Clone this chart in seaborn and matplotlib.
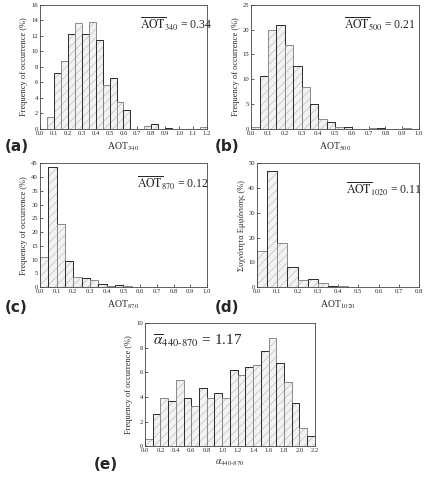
import numpy as np
import pandas as pd
import matplotlib
matplotlib.use('Agg')
import matplotlib.pyplot as plt
import matplotlib.patches as mpatches
import seaborn as sns

# bin edges / frequencies (%)
aot340_edges = np.round(np.arange(0.05, 1.2001, 0.05), 2)
aot340_freq = [1.5, 7.2, 8.7, 12.2, 13.6, 12.2, 13.8, 11.5, 5.7, 6.6, 3.4, 2.4,
               0, 0, 0.3, 0.6, 0, 0.1, 0, 0, 0, 0, 0.2]

aot500_edges = np.round(np.arange(0.0, 1.0001, 0.05), 2)
aot500_freq = [0.4, 10.7, 20.0, 21.0, 17.0, 12.6, 8.4, 5.0, 2.0, 1.4, 0.4, 0.4,
               0, 0, 0.2, 0.2, 0, 0, 0.2, 0]

aot870_edges = np.round(np.arange(0.0, 1.0001, 0.05), 2)
aot870_freq = [11.0, 43.5, 23.0, 9.5, 3.6, 3.2, 2.6, 1.2, 0.4, 0.8, 0.3, 0.1,
               0, 0.2, 0, 0, 0.2, 0, 0, 0]

aot1020_edges = np.round(np.arange(0.0, 0.8001, 0.05), 2)
aot1020_freq = [14.5, 47.0, 18.0, 8.0, 3.0, 3.5, 1.8, 0.5, 0.3, 0, 0, 0,
                0, 0, 0, 0]

alpha_edges = np.round(np.arange(0.0, 2.2001, 0.1), 2)
alpha_freq = [0.6, 2.6, 3.9, 3.7, 5.4, 3.9, 3.3, 4.7, 3.9, 4.3, 3.9, 6.2,
              5.8, 6.4, 6.6, 7.7, 8.8, 6.8, 5.2, 3.5, 1.5, 0.8]

sns.set_style('ticks')
plt.rcParams['font.family'] = ['Liberation Serif', 'DejaVu Serif']
plt.rcParams['mathtext.fontset'] = 'stix'
plt.rcParams['hatch.linewidth'] = 0.5

fig = plt.figure(figsize=(4.25, 4.86), dpi=100)

panels = [
    # edges, freq, rect, xticks, yticks, xlabel, ylabel, note, note pos, tag, tag pos
    (aot340_edges, aot340_freq, [0.094, 0.735, 0.393, 0.255],
     np.arange(0, 1.21, 0.1), np.arange(0, 17, 2), r'AOT$_{340}$',
     'Frequency of occurrence (%)', r'$\overline{\mathrm{AOT}}_{340}$ = 0.34',
     (0.6, 0.8), '(a)', (0.01, 0.69)),
    (aot500_edges, aot500_freq, [0.591, 0.735, 0.395, 0.255],
     np.arange(0, 1.01, 0.1), np.arange(0, 26, 5), r'AOT$_{500}$',
     'Frequency of occurrence (%)', r'$\overline{\mathrm{AOT}}_{500}$ = 0.21',
     (0.55, 0.8), '(b)', (0.505, 0.69)),
    (aot870_edges, aot870_freq, [0.094, 0.409, 0.393, 0.255],
     np.arange(0, 1.01, 0.1), np.arange(0, 46, 5), r'AOT$_{870}$',
     'Frequency of occurrence (%)', r'$\overline{\mathrm{AOT}}_{870}$ = 0.12',
     (0.58, 0.8), '(c)', (0.01, 0.357)),
    (aot1020_edges, aot1020_freq, [0.605, 0.409, 0.381, 0.255],
     np.arange(0, 0.81, 0.1), np.arange(0, 51, 10), r'AOT$_{1020}$',
     'Συχνότητα Εμφάνισης (%)', r'$\overline{\mathrm{AOT}}_{1020}$ = 0.11',
     (0.55, 0.75), '(d)', (0.505, 0.357)),
    (alpha_edges, alpha_freq, [0.341, 0.082, 0.40, 0.253],
     np.arange(0, 2.21, 0.2), np.arange(0, 11, 2), r'$\alpha_{440\text{-}870}$',
     'Frequency of occurrence (%)', r'$\overline{\alpha}_{440\text{-}870}$ = 1.17',
     (0.05, 0.82), '(e)', (0.22, 0.035)),
]

for edges, freq, rect, xt, yt, xl, yl, note, npos, tag, tpos in panels:
    ax = fig.add_axes(rect)
    df = pd.DataFrame({'mid': (edges[:-1] + edges[1:]) / 2, 'freq': freq})
    # light edges so the hatch stays light grey
    sns.histplot(data=df, x='mid', weights='freq', bins=list(edges), ax=ax,
                 color='#f2f2f2', edgecolor='#c0c0c0', linewidth=0.5,
                 alpha=1, hatch='////')
    # outline every bar, alternating dark / mid grey
    for i, p in enumerate(list(ax.patches)):
        if p.get_height() <= 0:
            continue
        ec = '#2a2a2a' if i % 2 == 1 else '#8a8a8a'
        ax.add_patch(mpatches.Rectangle(p.get_xy(), p.get_width(),
                                        p.get_height(), fill=False,
                                        edgecolor=ec, linewidth=0.7))
    ax.set_xlim(xt[0], xt[-1])
    ax.set_ylim(yt[0], yt[-1])
    ax.set_xticks(xt)
    ax.set_xticklabels([f'{v:.1f}' for v in xt], fontsize=4.8)
    ax.set_yticks(yt)
    ax.set_yticklabels([str(int(v)) for v in yt], fontsize=4.8)
    ax.tick_params(direction='in', length=2, width=0.5, pad=1.5)
    ax.set_xlabel(xl, fontsize=7, labelpad=3)
    ax.set_ylabel(yl, fontsize=6, labelpad=2)
    for s in ax.spines.values():
        s.set_linewidth(0.6)
        s.set_color('#444444')
    fs = 11 if tag == '(e)' else 8.5
    ax.text(npos[0], npos[1], note, transform=ax.transAxes, fontsize=fs)
    fig.text(tpos[0], tpos[1], tag, fontsize=11, fontweight='bold',
             family='DejaVu Sans')

fig.savefig('out.png', dpi=100)
